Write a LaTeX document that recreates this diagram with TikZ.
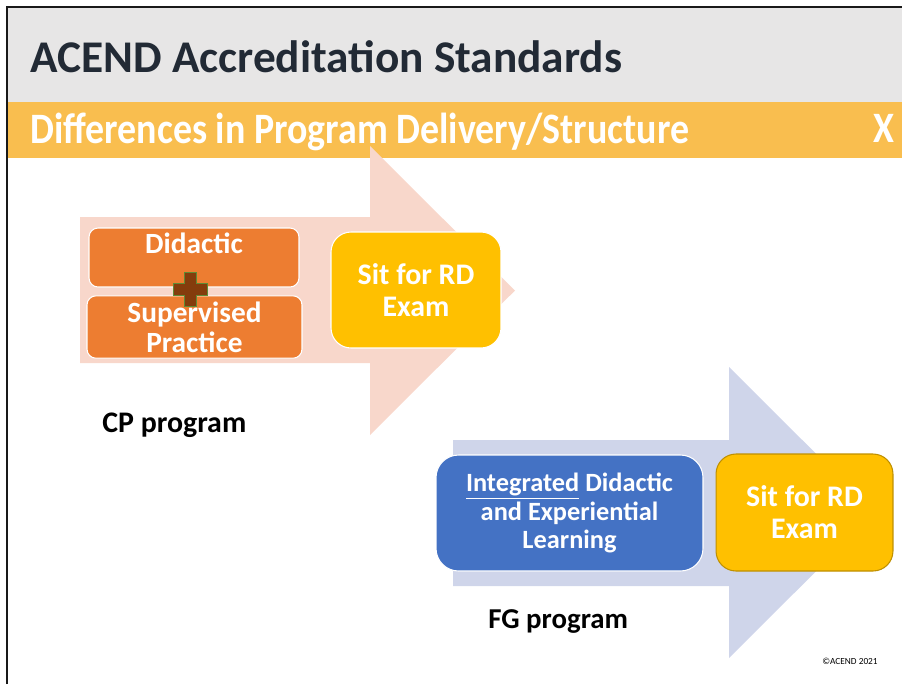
\documentclass[tikz,border=0pt]{standalone}
\usepackage{fontspec}
\setmainfont{Carlito}
\usepackage{xcolor}
\definecolor{acgray}{HTML}{E7E6E6}
\definecolor{acband}{HTML}{F9BE4F}
\definecolor{actitle}{HTML}{222A35}
\definecolor{acpink}{HTML}{F8D7CB}
\definecolor{aclav}{HTML}{CFD5EA}
\definecolor{acorange}{HTML}{ED7D31}
\definecolor{acgold}{HTML}{FFC000}
\definecolor{acgoldedge}{HTML}{BF9000}
\definecolor{acblue}{HTML}{4472C4}
\definecolor{acbrown}{HTML}{843C0C}
\definecolor{acgreen}{HTML}{5E8B35}

\begin{document}
\begin{tikzpicture}[x=0.02cm, y=-0.02cm,
  lbl/.style={anchor=base west, inner sep=0pt},
  obox/.style={draw=white, line width=0.6pt, fill=acorange, rounded corners=0.18cm},
  ybox/.style={draw=white, line width=0.6pt, fill=acgold, rounded corners=0.4cm,
    text=white, align=center, font=\bfseries\fontsize{17}{18.2}\selectfont},
  bbox/.style={draw=white, line width=0.6pt, fill=acblue, rounded corners=0.45cm,
    text=white, align=center, font=\bfseries\fontsize{15}{16.4}\selectfont}]
\useasboundingbox (0,0) rectangle (902,684);
% header
\fill[acgray] (8,8) rectangle (902,102);
\fill[acband] (8,102) rectangle (902,158);
\draw[line width=1.2pt, black!90] (7,684) -- (7,7) -- (902,7);
\node[lbl, text=actitle, font=\bfseries\fontsize{25.8}{30}\selectfont] (title) at (30,72) {ACEND Accreditation Standards};
\node[lbl, text=white, font=\bfseries\fontsize{24.7}{28}\selectfont] (subtitle) at (30,143)
  {\scalebox{0.874}[1]{Differences in Program Delivery/Structure}};
\node[anchor=base east, inner sep=0pt, text=white, font=\bfseries\fontsize{24.7}{28}\selectfont] (close) at (895,142)
  {\scalebox{0.874}[1]{X}};

% CP program
\fill[acpink] (80,217) -- (370,217) -- (370,146) -- (515,290.5) -- (370,435) -- (370,363) -- (80,363) -- cycle;
\node[obox, minimum width=4.2cm, minimum height=1.18cm] (did) at (194,257.5) {};
\node[inner sep=0pt, text=white, font=\bfseries\fontsize{16.7}{18}\selectfont] (didtxt) at (194,243) {Didactic};
\node[obox, minimum width=4.3cm, minimum height=1.16cm, text=white, align=center,
  font=\bfseries\fontsize{16.7}{17}\selectfont] (sup) at (194.5,327) {Supervised\\Practice};
\draw[fill=acbrown, draw=acgreen, line width=0.5pt] (184,272) -- (196,272) -- (196,283) -- (207,283)
  -- (207,295) -- (196,295) -- (196,306) -- (184,306) -- (184,295) -- (173,295) -- (173,283) -- (184,283) -- cycle;
\node[ybox, minimum width=3.4cm, minimum height=2.32cm] (cpexam) at (416,290) {Sit for RD\\Exam};
\node[lbl, font=\bfseries\fontsize{17}{20}\selectfont] (cplabel) at (102,432) {CP program};

% FG program
\fill[aclav] (453,440) -- (729,440) -- (729,367) -- (875,512.5) -- (729,658) -- (729,586) -- (453,586) -- cycle;
\node[bbox, minimum width=5.34cm, minimum height=2.32cm] (integ) at (569.5,513)
  {\underline{Integrated} Didactic\\and Experiential\\Learning};
\node[ybox, draw=acgoldedge, minimum width=3.54cm, minimum height=2.34cm] (fgexam) at (804.5,512.5) {Sit for RD\\Exam};
\node[lbl, font=\bfseries\fontsize{16.4}{20}\selectfont] (fglabel) at (488,628) {FG program};

\node[lbl, font=\fontsize{5.3}{6}\selectfont] (copy) at (822,664) {\textcopyright ACEND 2021};
\end{tikzpicture}
\end{document}
